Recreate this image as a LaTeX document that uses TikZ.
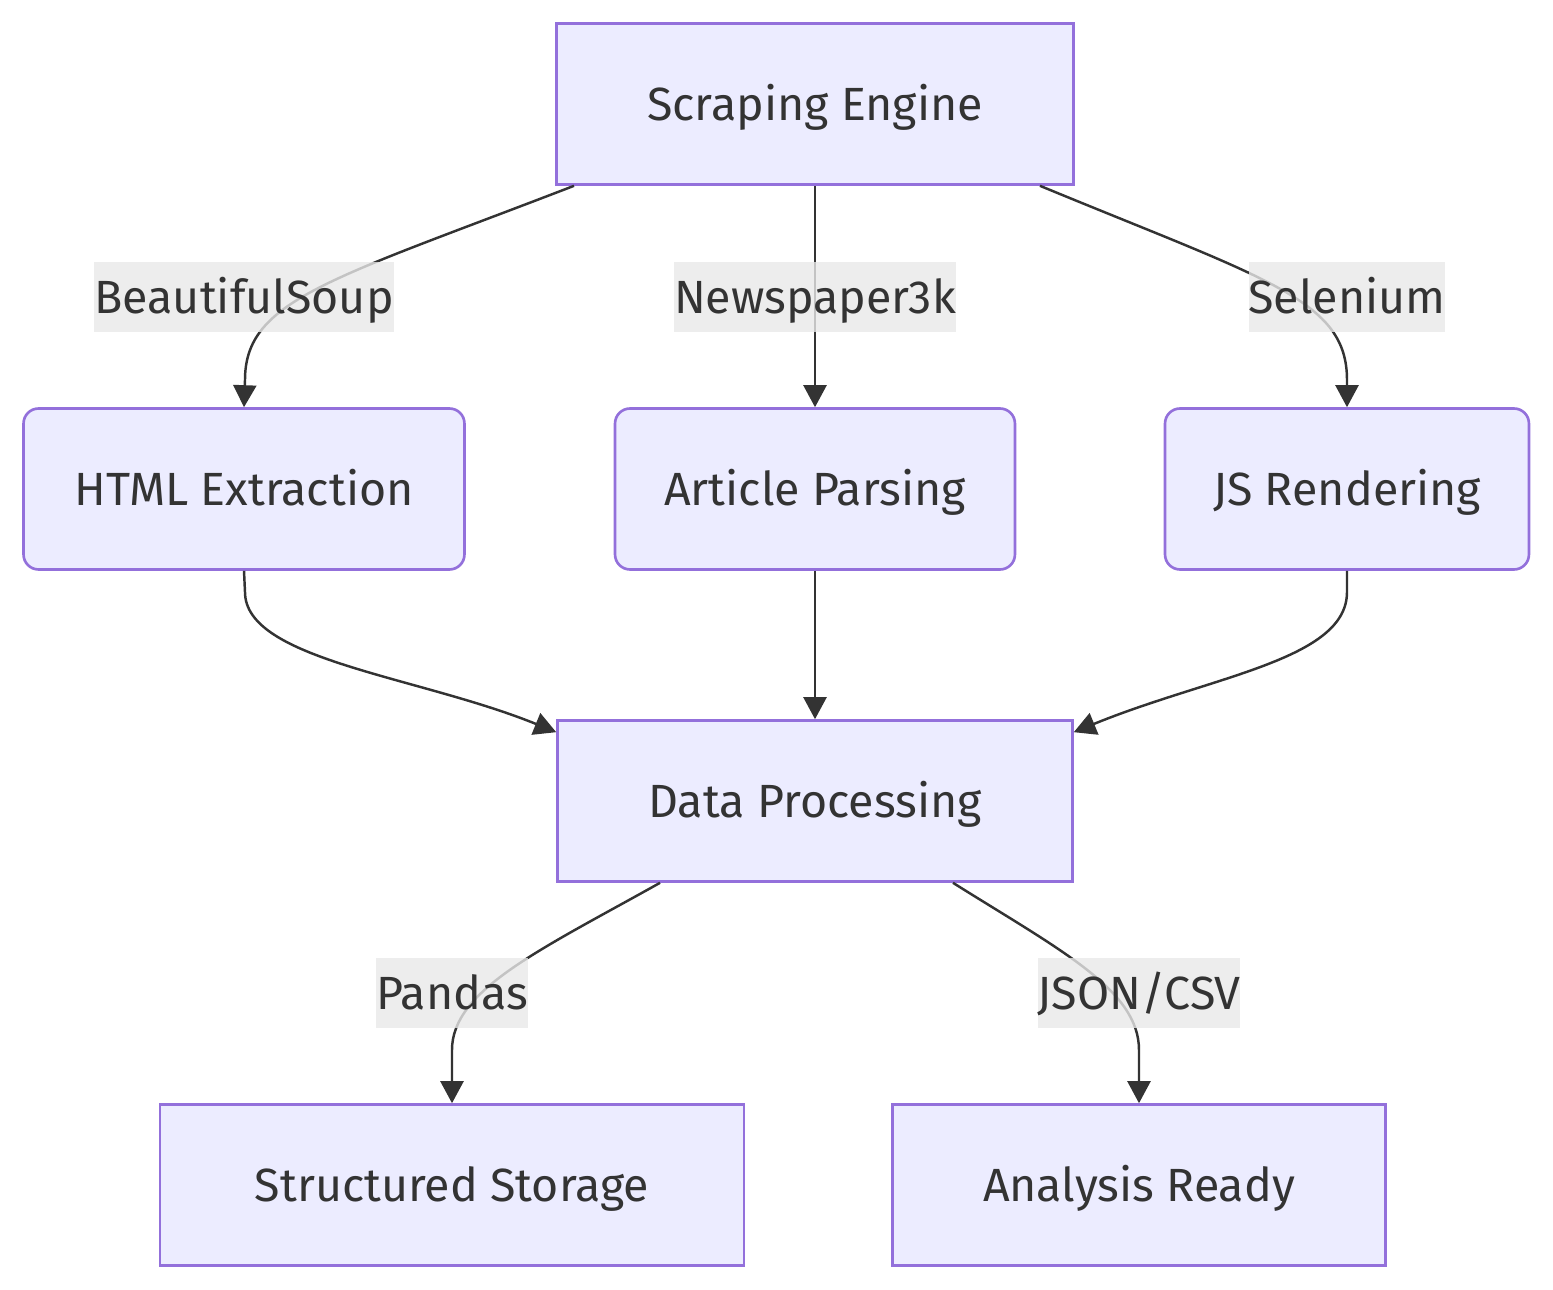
\documentclass[tikz,border=0pt]{standalone}
\usepackage{fontspec}
\setmainfont{Fira Sans}
\usepackage{tikz}
\usetikzlibrary{arrows.meta}
\definecolor{boxfill}{HTML}{ECECFF}
\definecolor{boxline}{HTML}{9370DB}
\definecolor{ink}{HTML}{333333}
\definecolor{lblfill}{HTML}{E8E8E8}
\tikzset{
    box/.style={draw=boxline, fill=boxfill, line width=1.5pt, text=ink, minimum height=3.22cm, inner sep=0pt, text height=0.9cm, text depth=0.22cm},
    rbox/.style={box, rounded corners=0.3cm},
    lbl/.style={fill=lblfill, fill opacity=0.8, text opacity=1, text=ink, inner xsep=0pt, inner ysep=0pt, minimum height=1.4cm, text height=0.9cm, text depth=0.22cm},
    link/.style={draw=ink, line width=1.4pt, ->},
}

\begin{document}
\begin{tikzpicture}[x=0.02cm, y=-0.02cm, >={Triangle[length=0.44cm,width=0.46cm]}, font=\fontsize{26.5}{30}\selectfont]
        \useasboundingbox (0,0) rectangle (1553,1290);

        \node[box, minimum width=10.34cm] (eng) at (815,104) {Scraping Engine};
        \node[rbox, minimum width=8.82cm] (html) at (244,489) {HTML Extraction};
        \node[rbox, minimum width=8.0cm] (art) at (815,489) {Article Parsing};
        \node[rbox, minimum width=7.28cm] (js) at (1347,489) {JS Rendering};
        \node[box, minimum width=10.3cm] (proc) at (815,801) {Data Processing};
        \node[box, minimum width=11.68cm] (store) at (452,1185) {Structured Storage};
        \node[box, minimum width=9.86cm] (ready) at (1139,1185) {Analysis Ready};

        \draw[link] ([xshift=-4.82cm]eng.south) .. controls (330,280) and (245,300) .. (245,380) -- (html.north);
        \draw[link] (eng.south) -- (art.north);
        \draw[link] ([xshift=4.5cm]eng.south) .. controls (1268,280) and (1347,300) .. (1347,380) -- (js.north);

        \draw[link] (html.south) -- (245,592) .. controls (245,660) and (418,676) .. ([yshift=-0.26cm]proc.north west);
        \draw[link] (art.south) -- (proc.north);
        \draw[link] (js.south) -- (1347,592) .. controls (1347,660) and (1211,676) .. ([yshift=-0.26cm]proc.north east);

        \draw[link] ([xshift=-3.1cm]proc.south) .. controls (540,950) and (452,990) .. (452,1050) -- (store.north);
        \draw[link] ([xshift=2.76cm]proc.south) .. controls (1060,950) and (1139,990) .. (1139,1050) -- (ready.north);

        \node[lbl] (bs) at (244,297) {BeautifulSoup};
        \node[lbl] (np) at (815,297) {Newspaper3k};
        \node[lbl] (sel) at (1347,297) {Selenium};
        \node[lbl] (pd) at (452,993) {Pandas};
        \node[lbl] (jc) at (1139,993) {JSON/CSV};
    \end{tikzpicture}
\end{document}
